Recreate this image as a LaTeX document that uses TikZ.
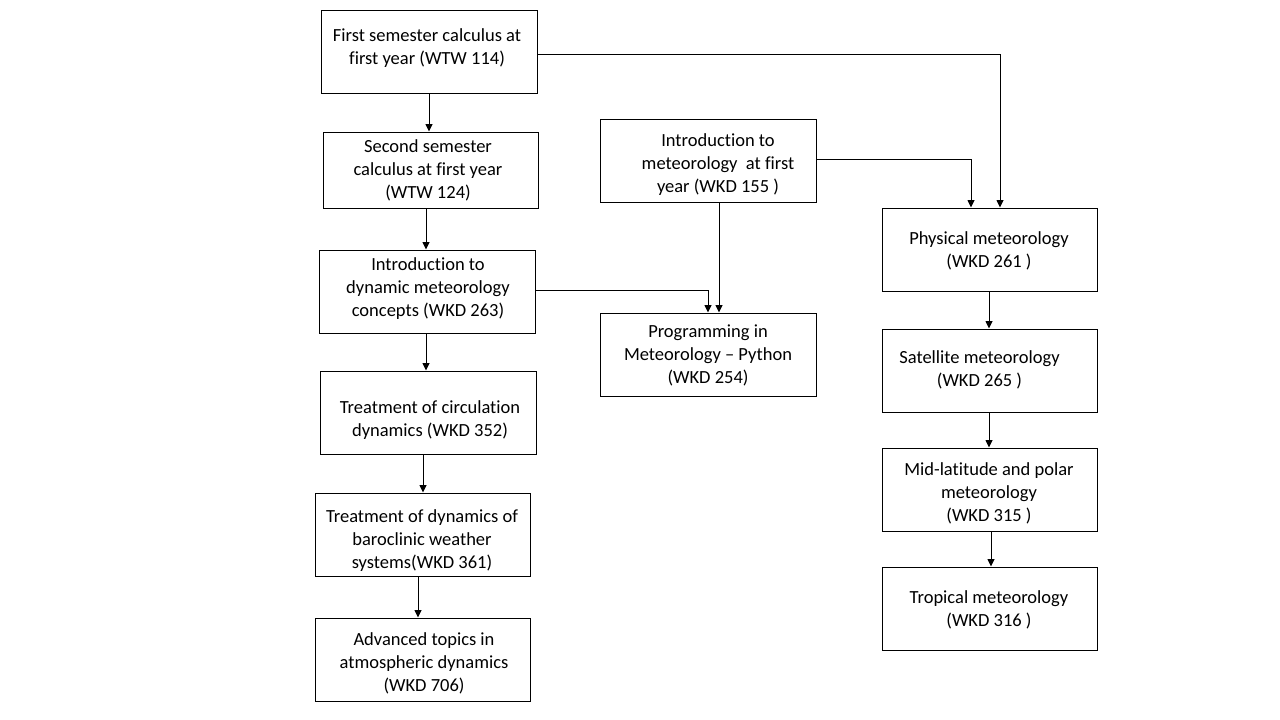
\documentclass[tikz,border=0pt]{standalone}
\usepackage{fontspec}
\setmainfont{Carlito}[Ligatures={NoCommon}]
\usetikzlibrary{arrows.meta}
\begin{document}
\begin{tikzpicture}[x=1pt,y=-1pt,
  box/.style={draw=black, line width=1pt, rectangle, inner sep=0pt},
  txt/.style={align=center, inner sep=0pt, yshift=-1.5pt, font=\fontsize{18.5}{23}\selectfont},
  arr/.style={draw=black, line width=0.9pt, -{Triangle[width=7pt,length=7.5pt]}}]
\useasboundingbox (0,0) rectangle (1280,720);
\fill[white] (0,0) rectangle (1280,720);
% boxes
\node[box, minimum width=216pt, minimum height=83pt] (b1) at (429,51.5) {};
\node[box, minimum width=215pt, minimum height=76pt] (b2) at (430.5,170) {};
\node[box, minimum width=216pt, minimum height=83pt] (b3) at (427,291.5) {};
\node[box, minimum width=216pt, minimum height=83pt] (b4) at (428,412.5) {};
\node[box, minimum width=215pt, minimum height=83pt] (b5) at (422.5,534.5) {};
\node[box, minimum width=215pt, minimum height=83pt] (b6) at (422.5,659.5) {};
\node[box, minimum width=216pt, minimum height=83pt] (b7) at (708,160.5) {};
\node[box, minimum width=216pt, minimum height=83pt] (b8) at (708,354.5) {};
\node[box, minimum width=215pt, minimum height=83pt] (b9) at (989.5,249.5) {};
\node[box, minimum width=215pt, minimum height=83pt] (b10) at (989.5,370.5) {};
\node[box, minimum width=215pt, minimum height=83pt] (b11) at (989.5,489.5) {};
\node[box, minimum width=215pt, minimum height=83pt] (b12) at (989.5,608.5) {};
% texts
\node[txt] (t1) at (427,47) {First semester calculus at\\first year (WTW 114)};
\node[txt] (t2) at (428,169) {Second semester\\calculus at first year\\(WTW 124)};
\node[txt] (t3) at (428,287) {Introduction to\\dynamic meteorology\\concepts (WKD 263)};
\node[txt] (t4) at (430,419) {Treatment of circulation\\dynamics (WKD 352)};
\node[txt] (t5) at (422,539) {Treatment of dynamics of\\baroclinic weather\\systems(WKD 361)};
\node[txt] (t6) at (424,662) {Advanced topics in\\atmospheric dynamics\\(WKD 706)};
\node[txt] (t7) at (718,163) {Introduction to\\meteorology~ at first\\year (WKD 155 )};
\node[txt] (t8) at (708,354) {Programming in\\Meteorology -- Python\\(WKD 254)};
\node[txt] (t9) at (989,249) {Physical meteorology\\(WKD 261 )};
\node[txt] (t10) at (979.5,368) {Satellite meteorology\\(WKD 265 )};
\node[txt] (t11) at (989,492) {Mid-latitude and polar\\meteorology\\(WKD 315 )};
\node[txt] (t12) at (989,608) {Tropical meteorology\\(WKD 316 )};
% connectors
\draw[arr] (b1.south -| 429,0) -- (b2.north -| 429,0);
\draw[arr] (b2.south -| 426,0) -- (b3.north -| 426,0);
\draw[arr] (b3.south -| 426,0) -- (b4.north -| 426,0);
\draw[arr] (b4.south -| 423,0) -- (b5.north -| 423,0);
\draw[arr] (b5.south -| 418,0) -- (b6.north -| 418,0);
\draw[arr] (b1.east |- 0,54) -| (b9.north -| 1000,0);
\draw[arr] (b7.east |- 0,159) -| (b9.north -| 971,0);
\draw[arr] (b7.south -| 719,0) -- (b8.north -| 719,0);
\draw[arr] (b3.east |- 0,290) -| (b8.north -| 708,0);
\draw[arr] (b9.south -| 989,0) -- (b10.north -| 989,0);
\draw[arr] (b10.south -| 989,0) -- (b11.north -| 989,0);
\draw[arr] (b11.south -| 991,0) -- (b12.north -| 991,0);
\end{tikzpicture}
\end{document}
